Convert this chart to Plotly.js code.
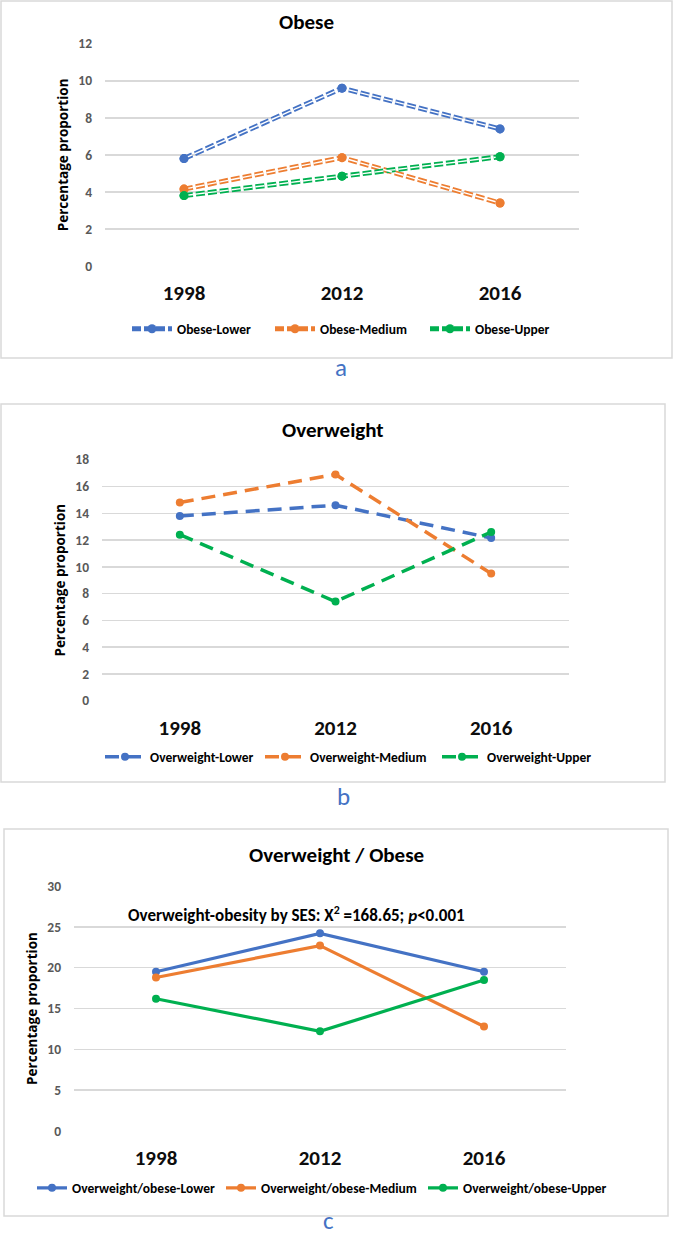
<!DOCTYPE html>
<html><head><meta charset="utf-8">
<script src="https://cdn.plot.ly/plotly-3.0.1.min.js"></script>
<style>html,body{margin:0;padding:0;background:#fff}#chart{width:673px;height:1239px}</style>
</head><body><div id="chart"></div>
<script>
// ---- data ----
const years = ['1998', '2012', '2016'];

const obeseNames = ['Obese-Lower', 'Obese-Medium', 'Obese-Upper'];
const obeseLower = [5.8, 9.6, 7.4];
const obeseMedium = [4.15, 5.85, 3.4];
const obeseUpper = [3.8, 4.85, 5.9];

const owNames = ['Overweight-Lower', 'Overweight-Medium', 'Overweight-Upper'];
const owLower = [13.8, 14.6, 12.15];
const owMedium = [14.8, 16.9, 9.5];
const owUpper = [12.4, 7.4, 12.6];

const owobNames = ['Overweight/obese-Lower', 'Overweight/obese-Medium', 'Overweight/obese-Upper'];
const owobLower = [19.5, 24.2, 19.5];
const owobMedium = [18.8, 22.7, 12.8];
const owobUpper = [16.2, 12.2, 18.5];

const titles = ['Obese', 'Overweight', 'Overweight / Obese'];
const panelLetters = ['a', 'b', 'c'];
const yTitle = 'Percentage proportion';
const statText = 'Overweight-obesity by SES: X<sup>2</sup> =168.65; <i>p</i><0.001';

// ---- styling ----
const colors = ['#4472C4', '#ED7D31', '#00B050'];
const W = 673, H = 1239;
const fx = p => p / W;
const fy = p => 1 - p / H;
const CAL = 'Carlito, Calibri, "Liberation Sans Narrow", "Open Sans", sans-serif';

const legendWidthsA = [88, 100, 90];
const legendWidthsB = [105, 122, 110];
const legendWidthsC = [144, 157, 150];

const traces = [];

// Panel a: double dashed lines
const aData = [obeseLower, obeseMedium, obeseUpper];
const aDash = '9px,3px';
aData.forEach((v, i) => {
  traces.push({x: years, y: v, xaxis: 'x', yaxis: 'y', type: 'scatter', mode: 'lines+markers',
    name: obeseNames[i], legend: 'legend', legendwidth: legendWidthsA[i],
    line: {color: colors[i], width: 5, dash: aDash},
    marker: {color: colors[i], size: 9, symbol: 'circle'}});
});
aData.forEach((v, i) => {
  traces.push({x: years, y: v, xaxis: 'x', yaxis: 'y', type: 'scatter', mode: 'lines',
    showlegend: false, hoverinfo: 'skip',
    line: {color: '#ffffff', width: 1.4, dash: aDash}});
});
aData.forEach((v, i) => {
  traces.push({x: years, y: v, xaxis: 'x', yaxis: 'y', type: 'scatter', mode: 'markers',
    showlegend: false, hoverinfo: 'skip',
    marker: {color: colors[i], size: 9, symbol: 'circle'}});
});

// Panel b: thick dashed
[owLower, owMedium, owUpper].forEach((v, i) => {
  traces.push({x: years, y: v, xaxis: 'x2', yaxis: 'y2', type: 'scatter', mode: 'lines+markers',
    name: owNames[i], legend: 'legend2', legendwidth: legendWidthsB[i],
    line: {color: colors[i], width: 3.5, dash: '14px,8px'},
    marker: {color: colors[i], size: 8, symbol: 'circle'}});
});

// Panel c: solid
[owobLower, owobMedium, owobUpper].forEach((v, i) => {
  traces.push({x: years, y: v, xaxis: 'x3', yaxis: 'y3', type: 'scatter', mode: 'lines+markers',
    name: owobNames[i], legend: 'legend3', legendwidth: legendWidthsC[i],
    line: {color: colors[i], width: 3.2},
    marker: {color: colors[i], size: 8, symbol: 'circle'}});
});

function xax(l, r, anchor) {
  return {domain: [fx(l), fx(r)], anchor: anchor, type: 'category', range: [-0.5, 2.5],
    showgrid: false, zeroline: false, showline: false, ticks: '', ticklabelstandoff: 12,
    tickfont: {family: CAL, size: 21, color: '#0D0D0D', weight: 700}, fixedrange: true};
}
function yax(bot, top, anchor, max, dt) {
  return {domain: [fy(bot), fy(top)], anchor: anchor, range: [0, max], dtick: dt, tick0: 0,
    showgrid: true, gridcolor: '#D9D9D9', gridwidth: 1.5, zeroline: false, showline: false,
    ticks: '', ticklabelstandoff: 12,
    tickfont: {family: CAL, size: 13.5, color: '#595959', weight: 700},
    title: {text: yTitle, standoff: 6, font: {family: '"Open Sans", sans-serif', size: 13.5, color: '#000', weight: 700}},
    fixedrange: true};
}

function legendAt(lx, cy, iw) {
  return {orientation: 'h', x: fx(lx), xanchor: 'left', y: fy(cy), yanchor: 'middle',
    itemwidth: iw, font: {family: CAL, size: 13.5, color: '#000', weight: 700},
    bgcolor: 'rgba(0,0,0,0)', traceorder: 'normal'};
}

function rect(x0, y0, x1, y1) {
  return {type: 'rect', xref: 'paper', yref: 'paper', x0: fx(x0), x1: fx(x1), y0: fy(y1), y1: fy(y0),
    line: {color: '#D9D9D9', width: 1.5}, fillcolor: 'rgba(0,0,0,0)', layer: 'below'};
}
function ann(text, cx, cy, size, opts) {
  return Object.assign({text: text, xref: 'paper', yref: 'paper', x: fx(cx), y: fy(cy),
    xanchor: 'center', yanchor: 'middle', showarrow: false,
    font: {family: CAL, size: size, color: '#000', weight: 700}}, opts || {});
}
const letterFont = {family: CAL, size: 25, color: '#4472C4'};

const layout = {
  width: W, height: H, autosize: false,
  margin: {l: 0, r: 0, t: 0, b: 0, pad: 0},
  paper_bgcolor: '#fff', plot_bgcolor: 'rgba(0,0,0,0)',
  xaxis: xax(105, 579, 'y'),
  yaxis: yax(266, 43.7, 'x', 12, 2),
  xaxis2: xax(102, 569, 'y2'),
  yaxis2: yax(700.7, 459.7, 'x2', 18, 2),
  xaxis3: xax(74, 566, 'y3'),
  yaxis3: yax(1131, 886, 'x3', 30, 5),
  legend: legendAt(127, 329, 40),
  legend2: legendAt(100, 757, 40),
  legend3: legendAt(32, 1188, 30),
  shapes: [rect(1, 1, 672, 358), rect(1, 404, 665, 782), rect(4, 829, 668, 1216)],
  annotations: [
    ann(titles[0], 306, 22, 21),
    ann(titles[1], 333, 430, 21),
    ann(titles[2], 336, 855, 21),
    ann(statText, 296, 914, 17),
    ann(panelLetters[0], 341, 367, 25, {font: letterFont}),
    ann(panelLetters[1], 343, 796, 25, {font: letterFont}),
    ann(panelLetters[2], 328, 1239, 25, {font: letterFont, yanchor: 'bottom', y: 0.0008})
  ],
  showlegend: true
};

Plotly.newPlot('chart', traces, layout, {staticPlot: true, displayModeBar: false});
</script>
</body></html>
